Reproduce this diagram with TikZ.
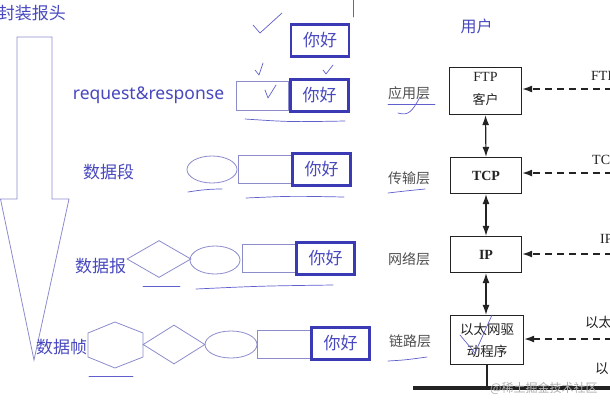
\documentclass[tikz,border=0pt]{standalone}
\usepackage{fontspec}
\setmainfont{Liberation Serif}
\setsansfont{Noto Sans}
\newfontfamily\cjk{Noto Sans CJK SC}
\usetikzlibrary{shapes.geometric,arrows.meta}
\definecolor{tblue}{RGB}{72,72,192}
\definecolor{bblue}{RGB}{58,58,180}
\definecolor{lblue}{RGB}{140,140,205}
\definecolor{ink}{RGB}{35,35,35}
\definecolor{gtext}{RGB}{80,80,80}
\definecolor{pen}{RGB}{95,95,205}
\definecolor{wm}{RGB}{175,175,175}
\begin{document}
\begin{tikzpicture}[x=1pt,y=-1pt,
  lbl/.style={text=tblue,font=\cjk\fontsize{17}{19}\selectfont,inner sep=0},
  hello/.style={draw=bblue,line width=2.6pt,text=tblue,font=\cjk\fontsize{17}{19}\selectfont,minimum width=58pt,minimum height=32.5pt,inner sep=0},
  emptybox/.style={draw=lblue,line width=0.8pt,minimum width=52pt,minimum height=28pt,inner sep=0},
  oval/.style={ellipse,draw=lblue,line width=0.8pt,inner sep=0},
  rhomb/.style={diamond,draw=lblue,line width=0.8pt,inner sep=0},
  layer/.style={text=gtext,font=\cjk\fontsize{14}{16}\selectfont,inner sep=0},
  proto/.style={draw=ink,line width=1.3pt,fill=white,text=ink,inner sep=0,align=center},
  dbl/.style={ink,line width=1.2pt,{Latex[length=10pt,width=7pt]}-{Latex[length=10pt,width=7pt]}},
  dsh/.style={ink,line width=1.4pt,dash pattern=on 7pt off 5pt,-{Latex[length=10pt,width=7pt]}},
  side/.style={text=ink,inner sep=0,anchor=west},
  scrib/.style={pen,line width=0.7pt,line cap=round,line join=round}
]
\clip (0,0) rectangle (610,400);
\fill[white] (0,0) rectangle (610,400);

% big arrow
\draw[lblue,line width=0.8pt] (17,37) -- (52,37) -- (52,199) -- (69,199) -- (34,360) -- (0.5,199) -- (17,199) -- cycle;

% left labels
\node[lbl] (title) at (32,13) {封装报头};
\node[text=tblue,font=\sffamily\fontsize{17.5}{20}\selectfont,inner sep=0] (req) at (148.5,95) {request\&response};
\node[lbl] (seg) at (108.5,172) {数据段};
\node[lbl] (pkt) at (100.5,266) {数据报};
\node[lbl] (frm) at (61.5,347) {数据帧};

% row 0
\node[hello] (h0) at (320,40.5) {你好};
% row 1
\node[emptybox,minimum width=52pt,minimum height=29pt] (r1) at (262,95.5) {};
\node[hello] (h1) at (319.5,95.5) {你好};
% row 2
\node[oval,minimum width=50pt,minimum height=27pt] (e2) at (212,169.5) {};
\node[emptybox,minimum width=53pt] (r2) at (264.5,169) {};
\node[hello] (h2) at (321.5,169.5) {你好};
% row 3
\node[rhomb,minimum width=64pt,minimum height=37pt] (d3) at (159,259) {};
\node[oval,minimum width=50pt,minimum height=28pt] (e3) at (215,260) {};
\node[emptybox,minimum width=53pt] (r3) at (268.5,258) {};
\node[hello] (h3) at (325.5,258.5) {你好};
% row 4
\draw[lblue,line width=0.8pt] (115,322) -- (143,333) -- (143,357) -- (115,368) -- (88,357) -- (88,333) -- cycle;
\node[rhomb,minimum width=62pt,minimum height=39pt] (d4) at (174,344.5) {};
\node[oval,minimum width=52pt,minimum height=27pt] (e4) at (231,344.5) {};
\node[emptybox,minimum width=53pt] (r4) at (283.5,344) {};
\node[hello] (h4) at (340.5,343.5) {你好};

% right: protocol stack
\node[text=tblue,font=\cjk\fontsize{16}{18}\selectfont,inner sep=0] (user) at (476.5,26.5) {用户};
\node[layer] (l1) at (409,93.5) {应用层};
\node[layer] (l2) at (409,178) {传输层};
\node[layer] (l3) at (409,259) {网络层};
\node[layer] (l4) at (410,341) {链路层};

\node[proto,minimum width=72pt,minimum height=47pt] (ftp) at (485.5,91) {};
\node[text=ink,font=\fontsize{14}{16}\selectfont,inner sep=0] (ftpt) at (485.5,77) {FTP};
\node[text=ink,font=\cjk\fontsize{13}{15}\selectfont,inner sep=0] (ftpc) at (485.5,100) {客户};
\node[proto,minimum width=71pt,minimum height=36pt,font=\bfseries\fontsize{14}{16}\selectfont] (tcp) at (486,175.5) {TCP};
\node[proto,minimum width=71pt,minimum height=36pt,font=\bfseries\fontsize{14}{16}\selectfont] (ip) at (486,254.5) {IP};
\node[proto,minimum width=73pt,minimum height=49pt,font=\cjk\fontsize{13.5}{22}\selectfont] (drv) at (487,340) {以太网驱\\动程序};

\draw[dbl] (ftp.south) -- (tcp.north);
\draw[dbl] (tcp.south) -- (ip.north);
\draw[dbl] (ip.south) -- (drv.north -| ip.south);

\coordinate (a1) at (612,89);
\coordinate (a2) at (612,173);
\coordinate (a3) at (612,254);
\coordinate (a4) at (612,339);
\draw[dsh] (a1) -- (ftp.east |- a1);
\draw[dsh] (a2) -- (tcp.east |- a2);
\draw[dsh] (a3) -- (ip.east |- a3);
\draw[dsh] (a4) -- (drv.east |- a4);

\node[side,font=\fontsize{14}{16}\selectfont] (s1) at (591,76) {FTP};
\node[side,font=\fontsize{14}{16}\selectfont] (s2) at (592,160) {TC};
\node[side,font=\fontsize{14}{16}\selectfont] (s3) at (600,239) {IP};
\node[side,font=\cjk\fontsize{13.5}{16}\selectfont] (s4) at (585,322) {以太};
\node[side,font=\cjk\fontsize{13.5}{16}\selectfont] (s5) at (595,369) {以};

\coordinate (g1) at (413,388);
\coordinate (g2) at (612,388);
\draw[ink,line width=1.2pt] (drv.south) -- (drv.south |- g1);
\draw[ink,line width=3.5pt] (g1) -- (g2);
\node[text=wm,font=\cjk\fontsize{12}{14}\selectfont,inner sep=0,anchor=west] (wmk) at (490,388) {@稀土掘金技术社区};

% handwritten marks
\draw[scrib] (253,25) -- (260,33) -- (282,13);
\draw[scrib] (353,0) -- (353,17);
\draw[scrib] (255,70) -- (259,75) -- (263,63);
\draw[scrib] (323,70) -- (326,74) -- (333,65);
\draw[scrib] (265,90) -- (268,98) -- (276,85);
\draw[scrib] (245,119) .. controls (290,122) .. (345,121);
\draw[scrib] (188,192) .. controls (200,190) and (210,189) .. (222,189);
\draw[scrib] (246,198) .. controls (290,196) .. (344,197);
\draw[scrib] (143,286) -- (180,286);
\draw[scrib] (196,289) .. controls (260,286) .. (333,285);
\draw[scrib] (89,376) -- (133,376);
\draw[scrib] (388,104) -- (435,104);
\draw[scrib] (398,113) .. controls (408,116) and (412,112) .. (420,97);
\draw[scrib] (388,193) .. controls (405,191) .. (425,189);
\draw[scrib] (388,361) .. controls (405,360) .. (427,357);
\draw[scrib] (460,335) -- (475,353) -- (492,315);
\end{tikzpicture}
\end{document}
